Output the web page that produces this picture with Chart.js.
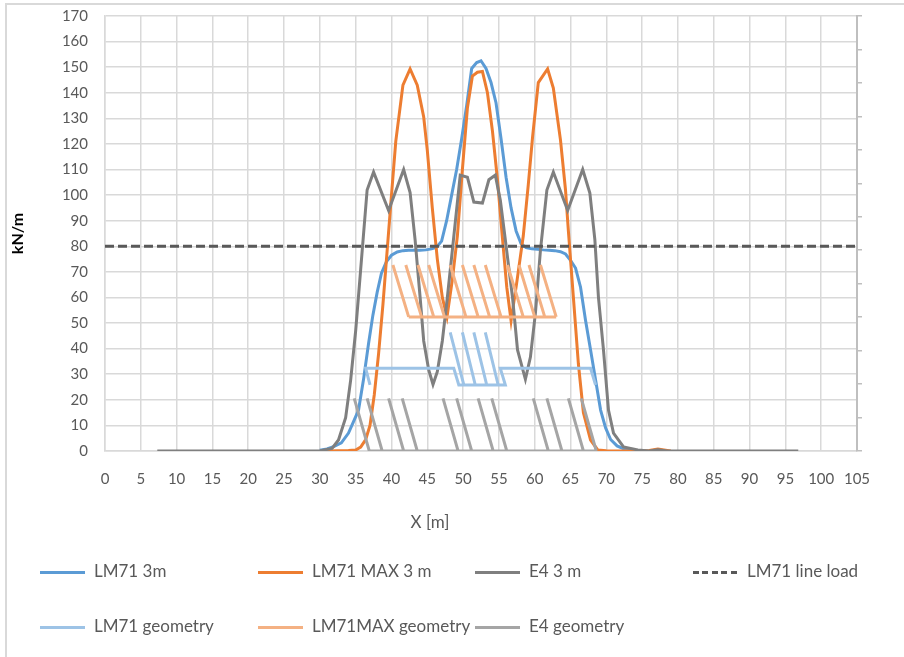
<!DOCTYPE html>
<html>
<head>
<meta charset="utf-8">
<script src="https://cdn.jsdelivr.net/npm/chart.js@4.4.0/dist/chart.umd.min.js"></script>
<style>
  body { margin: 0; background: #fff; font-family: Lato, sans-serif; }
  #wrap { position: relative; width: 904px; height: 657px; overflow: hidden; }
  #frame { position: absolute; left: 5px; top: 3px; width: 930px; height: 690px; border: 2px solid #d9d9d9; box-sizing: border-box; }
  canvas { position: absolute; left: 0; top: 0; }
  .leg { position: absolute; height: 20px; line-height: 20px; font-size: 17px; color: #595959; white-space: nowrap; }
  .leg i { display: inline-block; width: 45px; height: 3px; vertical-align: middle; margin-right: 9px; }
  #xtitle { position: absolute; left: 380px; width: 100px; top: 511px; text-align: center; font-size: 17px; color: #595959; }
</style>
</head>
<body>
<div id="wrap">
  <div id="frame"></div>
  <canvas id="chart" width="904" height="657"></canvas>
  <div id="xtitle">X [m]</div>
  <div id="legend"></div>
</div>
<script>
// LM71 3m
var lm71X = [30, 31, 32, 33, 34, 34.7, 35.4, 36.1, 36.8, 37.4, 38, 38.6, 39.3, 40, 40.8, 41.6, 42.4, 43.2, 44, 44.8, 45.6, 46.3, 47, 47.7, 48.4, 49.1, 49.8, 50.5, 51.2, 51.9, 52.5, 53.2, 53.9, 54.6, 55.3, 56, 56.7, 57.4, 58.1, 58.8, 59.6, 60.4, 61.2, 62, 62.8, 63.6, 64.3, 65, 65.7, 66.4, 67.1, 67.8, 68.5, 69.2, 69.9, 70.6, 71.5, 72.5, 73.5];
var lm71Y = [0.3, 0.8, 1.8, 3.2, 7, 11.5, 16, 28, 42, 53, 62, 69.5, 74, 76.5, 77.8, 78.3, 78.5, 78.5, 78.5, 78.6, 79, 79.6, 82, 90, 100, 110, 122, 135, 149.5, 151.8, 152.5, 149.5, 144, 136, 122, 107, 95, 86, 81, 79.5, 79, 78.8, 78.6, 78.5, 78.3, 77.9, 77, 74.5, 71.5, 64, 51, 39.5, 27.7, 16, 9, 4.5, 2, 0.8, 0.3];

// LM71 MAX 3 m
var lm71MaxX = [31, 34, 35, 35.7, 36.4, 37, 37.6, 38.2, 38.8, 39.4, 40, 40.6, 41.6, 42.6, 43.6, 44.5, 45, 45.7, 46.4, 47.1, 47.75, 48.5, 49.2, 49.9, 50.6, 51.3, 52, 52.7, 53.4, 54.1, 54.8, 55.5, 56.1, 56.7, 57.5, 58.4, 59.1, 59.7, 60.5, 61.8, 62.6, 63.6, 64.3, 64.7, 65.4, 66.1, 66.8, 67.8, 68.8, 70, 72, 74, 76, 77.2, 78.5, 79];
var lm71MaxY = [0, 0.2, 0.4, 1.5, 4.5, 10, 22, 38, 57, 78.5, 100, 121, 143, 149.3, 143, 130.5, 117.6, 95, 75, 60, 52.4, 67, 84, 110, 134, 146.5, 148, 148.3, 140, 125, 106, 83, 64, 51, 66, 84, 104, 122.7, 144, 149.3, 141.8, 121.5, 102, 86, 60, 34, 15, 4.3, 0.4, 0.1, 0, 0, 0.2, 0.8, 0.2, 0];

// E4 3 m
var e4X = [7.3, 30, 30.8, 31.7, 32.6, 33.6, 34.3, 35, 35.7, 36.6, 37.5, 39.6, 41.7, 42.6, 43.3, 44, 44.5, 45.2, 45.8, 46.4, 47.1, 47.8, 48.5, 49.6, 50.6, 51.5, 52.7, 53.6, 54.5, 55.2, 55.9, 56.9, 57.6, 58.7, 59.4, 60.1, 60.8, 61.7, 62.6, 64.6, 66.7, 67.7, 68.4, 68.9, 69.6, 70.3, 71, 72.4, 74.4, 76, 77.2, 78.5, 96.8];
var e4Y = [0, 0, 0.5, 1, 4.3, 13, 27.7, 47, 71, 102, 109, 94, 110, 101, 82.5, 60, 43, 31.7, 26, 31, 43, 60, 78.5, 107.8, 107, 97.3, 96.9, 106, 107.8, 98, 82.5, 60, 39.5, 28, 36.7, 54, 78.5, 102, 109, 94, 110, 100.8, 82.5, 60, 39.5, 16, 7, 1.6, 0.4, 0, 0.5, 0, 0];

// LM71 line load
var lineLoadX = [0, 105];
var lineLoadY = [80, 80];

// LM71 geometry: outline + wheel slants
var lm71GeoX = [37.0, 36.4, 48.7, 49.4, 55.9, 55.2, 67.8, 68.5];
var lm71GeoY = [25.8, 32.3, 32.3, 25.8, 25.8, 32.3, 32.3, 25.8];
var lm71SlantTop = [48.2, 49.9, 51.5, 53.1];
var lm71SlantBot = [50.1, 51.7, 53.3, 54.9];
var lm71SlantY = [46.4, 25.8];

// LM71MAX geometry
var maxBaseX = [42.4, 63.0];
var maxBaseY = 52.4;
var maxSlantTop = [40.2, 42.0, 43.7, 45.2, 48.2, 49.9, 51.5, 53.1, 56.2, 57.8, 59.2, 60.8];
var maxSlantBot = [42.4, 44.2, 45.9, 47.4, 50.4, 52.1, 53.7, 55.3, 58.4, 60.0, 61.4, 63.0];
var maxSlantY = [72.7, 52.4];

// E4 geometry
var e4BaseX = [36.9, 68.6];
var e4BaseY = 0;
var e4SlantTop = [34.8, 36.6, 39.6, 41.5, 47.2, 49.1, 52.1, 54.0, 59.8, 61.7, 64.7, 66.5];
var e4SlantBot = [36.9, 38.7, 41.7, 43.6, 49.3, 51.2, 54.2, 56.1, 61.9, 63.8, 66.8, 68.6];
var e4SlantY = [20.6, 0];

var xTicks = { min: 0, max: 105, step: 5 };
var yTicks = { min: 0, max: 170, step: 10 };

function pts(xs, ys) {
  var out = [];
  for (var i = 0; i < xs.length; i++) out.push({ x: xs[i], y: ys[i] });
  return out;
}
function slants(out, tops, bots, ys) {
  for (var i = 0; i < tops.length; i++) {
    out.push({ x: tops[i], y: null });
    out.push({ x: tops[i], y: ys[0] });
    out.push({ x: bots[i], y: ys[1] });
  }
  return out;
}

var lm71Geo = slants(pts(lm71GeoX, lm71GeoY), lm71SlantTop, lm71SlantBot, lm71SlantY);
var maxGeo = slants(pts(maxBaseX, [maxBaseY, maxBaseY]), maxSlantTop, maxSlantBot, maxSlantY);
var e4Geo = slants(pts(e4BaseX, [e4BaseY, e4BaseY]), e4SlantTop, e4SlantBot, e4SlantY);

var series = [
  { label: 'LM71 line load', data: pts(lineLoadX, lineLoadY), color: '#595959', dash: [9, 4] },
  { label: 'E4 geometry', data: e4Geo, color: '#a5a5a5' },
  { label: 'LM71MAX geometry', data: maxGeo, color: '#f4b183' },
  { label: 'LM71 geometry', data: lm71Geo, color: '#9dc3e6' },
  { label: 'E4 3 m', data: pts(e4X, e4Y), color: '#7f7f7f' },
  { label: 'LM71 MAX 3 m', data: pts(lm71MaxX, lm71MaxY), color: '#ed7d31' },
  { label: 'LM71 3m', data: pts(lm71X, lm71Y), color: '#5b9bd5' }
];

var tickFont = { family: 'Lato', size: 15 };

function noPad(s) { s.paddingTop = 0; s.paddingBottom = 0; }

new Chart(document.getElementById('chart'), {
  type: 'scatter',
  data: {
    datasets: series.map(function (s) {
      return {
        label: s.label,
        data: s.data,
        showLine: true,
        spanGaps: false,
        borderColor: s.color,
        backgroundColor: s.color,
        borderWidth: 3,
        borderDash: s.dash || [],
        pointRadius: 0,
        pointHoverRadius: 0,
        tension: 0
      };
    })
  },
  options: {
    responsive: false,
    animation: false,
    devicePixelRatio: 1,
    layout: { padding: { left: 0, top: 16, right: 7, bottom: 166 } },
    plugins: { legend: { display: false }, tooltip: { enabled: false } },
    scales: {
      x: {
        type: 'linear', min: xTicks.min, max: xTicks.max,
        ticks: { stepSize: xTicks.step, color: '#595959', font: tickFont, padding: 19, maxRotation: 0, autoSkip: false },
        grid: { color: '#d9d9d9', lineWidth: 1.5, drawTicks: false },
        border: { color: '#d9d9d9', width: 1.5 },
        afterFit: function (s) { s.height = 40; }
      },
      y: {
        type: 'linear', min: yTicks.min, max: yTicks.max,
        ticks: { stepSize: yTicks.step, color: '#595959', font: tickFont, padding: 17 },
        grid: { color: '#d9d9d9', lineWidth: 1.5, drawTicks: false },
        border: { color: '#d9d9d9', width: 1.5 },
        title: { display: true, text: 'kN/m', color: '#000', font: { family: 'Lato', size: 16, weight: 'bold' }, padding: { top: 8, bottom: 0 } },
        afterFit: function (s) { s.width = 105; noPad(s); }
      },
      y2: {
        type: 'linear', position: 'right', min: 0, max: 13,
        ticks: { display: false, stepSize: 1 },
        grid: { drawOnChartArea: false, drawTicks: true, tickLength: 5, color: '#bfbfbf', lineWidth: 1.5 },
        border: { color: '#bfbfbf', width: 2 },
        afterFit: function (s) { s.width = 40; noPad(s); }
      }
    }
  }
});

var legendItems = [
  { text: 'LM71 3m', color: '#5b9bd5', left: 40, top: 561 },
  { text: 'LM71 MAX 3 m', color: '#ed7d31', left: 258, top: 561 },
  { text: 'E4 3 m', color: '#7f7f7f', left: 475, top: 561 },
  { text: 'LM71 line load', color: '#595959', left: 693, top: 561, dash: true },
  { text: 'LM71 geometry', color: '#9dc3e6', left: 40, top: 616 },
  { text: 'LM71MAX geometry', color: '#f4b183', left: 258, top: 616 },
  { text: 'E4 geometry', color: '#a5a5a5', left: 475, top: 616 }
];
var leg = document.getElementById('legend');
legendItems.forEach(function (it) {
  var d = document.createElement('div');
  d.className = 'leg';
  d.style.left = it.left + 'px';
  d.style.top = it.top + 'px';
  var bg = it.dash ? 'repeating-linear-gradient(90deg,' + it.color + ' 0 6px, transparent 6px 9.5px)' : it.color;
  d.innerHTML = '<i style="background:' + bg + '"></i>' + it.text;
  leg.appendChild(d);
});
</script>
</body>
</html>
